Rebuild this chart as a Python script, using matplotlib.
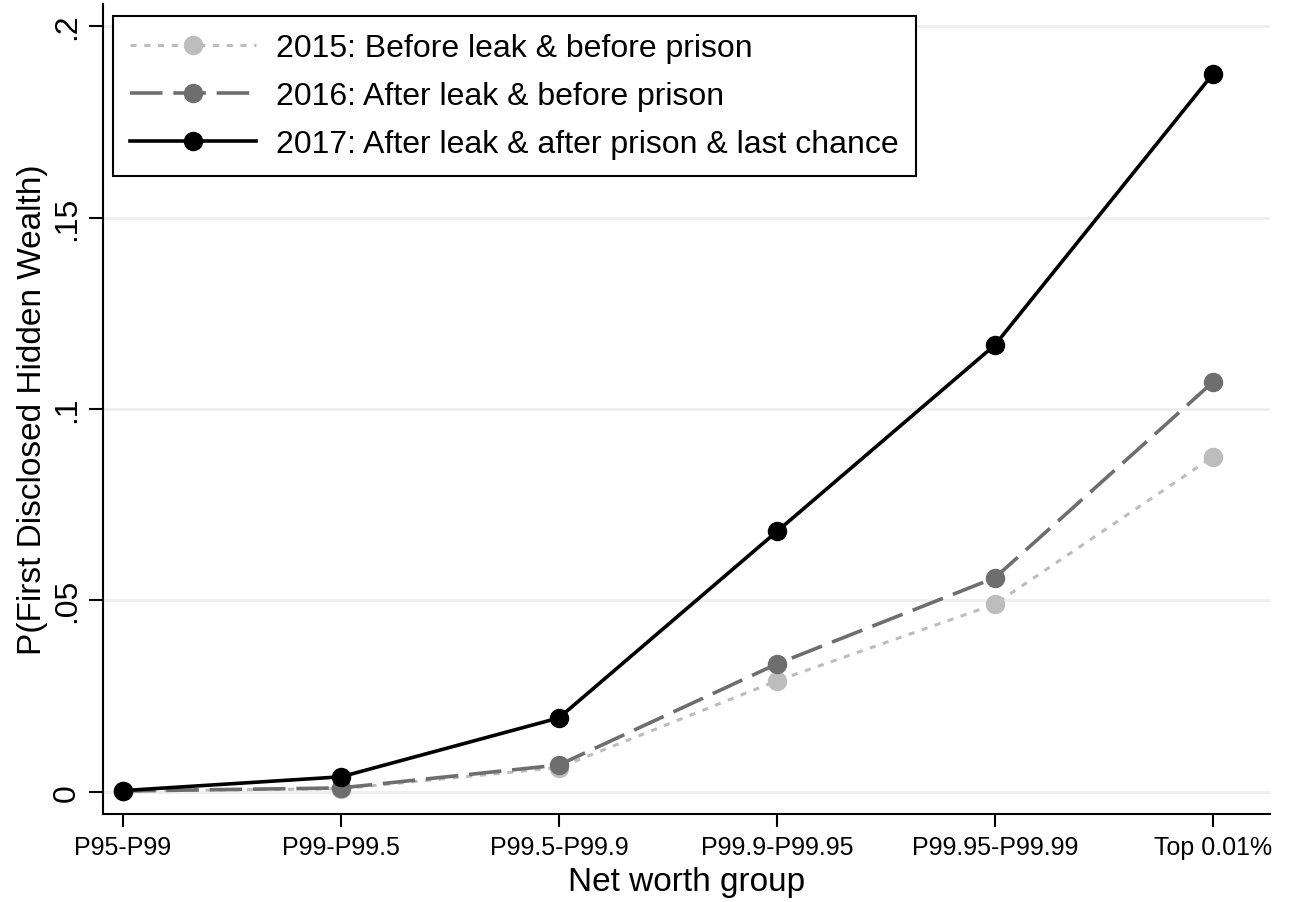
import numpy as np
import matplotlib
matplotlib.use("Agg")
import matplotlib.pyplot as plt

plt.rcParams['font.family'] = ['Liberation Sans', 'DejaVu Sans']

groups = ['P95-P99', 'P99-P99.5', 'P99.5-P99.9', 'P99.9-P99.95', 'P99.95-P99.99', 'Top 0.01%']
y2015 = [0.0002, 0.0008, 0.0063, 0.029, 0.049, 0.0875]
y2016 = [0.0002, 0.0010, 0.0070, 0.0334, 0.0559, 0.107]
y2017 = [0.0003, 0.0039, 0.0193, 0.068, 0.1167, 0.1875]
labels = ['2015: Before leak & before prison',
          '2016: After leak & before prison',
          '2017: After leak & after prison & last chance']

x = np.arange(len(groups))

fig = plt.figure(figsize=(12.89, 9.03), dpi=100)
ax = fig.add_axes([0.0799, 0.0975, 0.905, 0.897])

ax.plot(x, y2015, color='#bdbdbd', ls=(0, (2, 2.5)), lw=2.2, marker='o', ms=13, label=labels[0])
ax.plot(x, y2016, color='#6e6e6e', ls=(0, (9, 3)), lw=2.6, marker='o', ms=13, label=labels[1])
ax.plot(x, y2017, color='black', ls='-', lw=2.6, marker='o', ms=13, label=labels[2])

ax.set_xlim(-0.092, 5.26)
ax.set_ylim(-0.0058, 0.2058)
ax.set_yticks([0, 0.05, 0.1, 0.15, 0.2])
ax.set_yticklabels(['0', '.05', '.1', '.15', '.2'], rotation=90, va='center', fontsize=23)
ax.set_xticks(x)
ax.set_xticklabels(groups, fontsize=18)
ax.grid(axis='y', color='#eeeeee', lw=2)
ax.set_axisbelow(True)

for s in ['top', 'right']:
    ax.spines[s].set_visible(False)
for s in ['left', 'bottom']:
    ax.spines[s].set_linewidth(1.5)
ax.tick_params(axis='y', length=10, width=1.5, pad=5)
ax.tick_params(axis='x', length=9, width=1.5, pad=6)

ax.set_xlabel('Net worth group', fontsize=24, labelpad=5)
ax.set_ylabel('P(First Disclosed Hidden Wealth)', fontsize=24, labelpad=3)

leg = ax.legend(loc='upper left', bbox_to_anchor=(0.0086, 0.985), borderaxespad=0,
                fontsize=23, numpoints=1, handlelength=3.95, fancybox=False,
                edgecolor='black', framealpha=1, borderpad=0.53, labelspacing=0.56,
                handletextpad=0.63)
leg.get_frame().set_linewidth(1.5)

fig.savefig('out.png', dpi=100)
